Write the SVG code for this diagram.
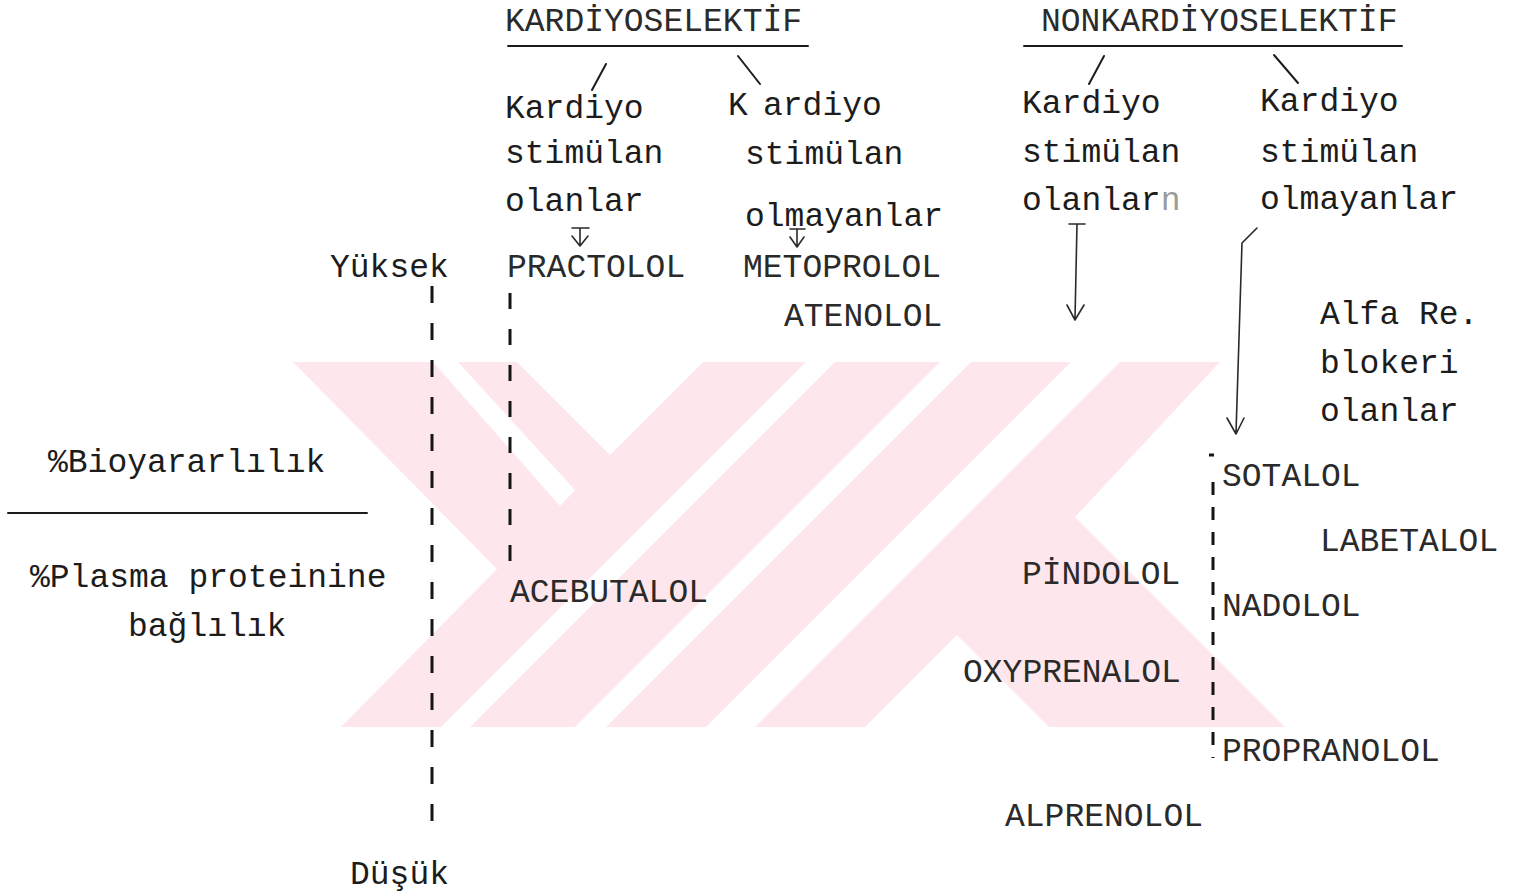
<svg xmlns="http://www.w3.org/2000/svg" width="1524" height="896" viewBox="0 0 1524 896">
  <defs>
    <clipPath id="wm-clip">
      <rect x="0" y="362" width="1524" height="365"/>
    </clipPath>
    <style>
      .tw { font-family: "Liberation Mono", "Courier New", monospace; font-size: 33px; fill: #1c1c1c; }
      .cap { font-family: "Liberation Mono", "Courier New", monospace; font-size: 33px; fill: #2a2a2a; }
      .faint { fill: #9a9a9a; }
      .ln { stroke: #1c1c1c; stroke-width: 2; fill: none; stroke-linecap: round; stroke-linejoin: round; }
      .thin { stroke: #2a2a2a; stroke-width: 1.6; fill: none; stroke-linecap: round; stroke-linejoin: round; }
      .dash { stroke: #151515; stroke-width: 3; fill: none; }
      .wm { fill: #fde7ec; }
      .gap { fill: #ffffff; }
    </style>
  </defs>

  <rect width="1524" height="896" fill="#ffffff"/>

  <!-- background stamp: diagonal bands -->
  <g id="stamp" clip-path="url(#wm-clip)">
    <polygon class="wm" points="293,362 1220,362 1075,517 1285,727 1049,727 957,635 865,727 341,727 497,569"/>
    <polygon class="gap" points="517,362 610,455 703,362"/>
    <polygon class="gap" points="433,362 458,362 575,490 560,506"/>
    <polygon class="gap" points="806,362 835,362 470,727 441,727"/>
    <polygon class="gap" points="940,362 971,362 606,727 575,727"/>
    <polygon class="gap" points="1071,362 1120,362 755,727 706,727"/>
  </g>

  <!-- connectors: branch strokes, arrows, scale lines -->
  <g id="connectors">
    <!-- header underlines -->
    <line class="ln" x1="508" y1="46" x2="808" y2="46"/>
    <line class="ln" x1="1024" y1="46" x2="1402" y2="46"/>
    <!-- branch strokes -->
    <line class="ln" x1="606" y1="64" x2="592" y2="90"/>
    <line class="ln" x1="738" y1="56" x2="760" y2="84"/>
    <line class="ln" x1="1104" y1="56" x2="1089" y2="84"/>
    <line class="ln" x1="1274" y1="55" x2="1298" y2="83"/>
    <!-- short arrows under the selective groups -->
    <path class="thin" d="M572,228 H589 M580,228 V245 M572,236 L580,246 L588,236"/>
    <path class="thin" d="M790,229 H805 M797,229 V246 M790,237 L797,247 L804,237"/>
    <!-- long arrows under the non-selective groups -->
    <path class="thin" d="M1069,224 H1085 M1077,224 L1075,319 M1067,305 L1075,320 L1084,305"/>
    <path class="thin" d="M1257,228 L1242,243 L1236,433 M1227,418 L1236,434 L1244,418"/>
    <!-- fraction bar -->
    <line class="ln" x1="8" y1="513" x2="367" y2="513"/>
    <!-- high/low scale -->
    <line class="dash" x1="432" y1="286" x2="432" y2="840" stroke-dasharray="17 20"/>
    <line class="dash" x1="510" y1="293" x2="510" y2="567" stroke-dasharray="16 20"/>
    <line class="dash" x1="1213" y1="482" x2="1213" y2="758" stroke-dasharray="13 12"/>
    <line class="dash" x1="1209" y1="455" x2="1214" y2="455" stroke-width="2"/>
  </g>

  <!-- group headers -->
  <g id="kardiyoselektif">
    <text class="cap" x="505" y="31">KARDİYOSELEKTİF</text>
  </g>
  <g id="nonkardiyoselektif">
    <text class="cap" x="1041" y="31">NONKARDİYOSELEKTİF</text>
  </g>

  <!-- sub-groups -->
  <g id="ks-stimulan-olan">
    <text class="tw" x="505" y="118">Kardiyo</text>
    <text class="tw" x="505" y="163">stimülan</text>
    <text class="tw" x="505" y="211">olanlar</text>
  </g>
  <g id="ks-stimulan-olmayan">
    <text class="tw" y="115"><tspan x="728">K</tspan><tspan x="763">ardiyo</tspan></text>
    <text class="tw" x="745" y="164">stimülan</text>
    <text class="tw" x="745" y="226">olmayanlar</text>
  </g>
  <g id="nks-stimulan-olan">
    <text class="tw" x="1022" y="113">Kardiyo</text>
    <text class="tw" x="1022" y="162">stimülan</text>
    <text class="tw" x="1022" y="210">olanlar<tspan class="faint">n</tspan></text>
  </g>
  <g id="nks-stimulan-olmayan">
    <text class="tw" x="1260" y="111">Kardiyo</text>
    <text class="tw" x="1260" y="162">stimülan</text>
    <text class="tw" x="1260" y="209">olmayanlar</text>
  </g>
  <g id="alfa-blokeri">
    <text class="tw" x="1320" y="324">Alfa Re.</text>
    <text class="tw" x="1320" y="373">blokeri</text>
    <text class="tw" x="1320" y="421">olanlar</text>
  </g>

  <!-- axis labels -->
  <g id="yuksek"><text class="tw" x="330" y="277">Yüksek</text></g>
  <g id="dusuk"><text class="tw" x="350" y="884">Düşük</text></g>
  <g id="oran">
    <text class="tw" x="48" y="472">%Bioyararlılık</text>
    <text class="tw" x="30" y="587">%Plasma proteinine</text>
    <text class="tw" x="128" y="636">bağlılık</text>
  </g>

  <!-- drugs -->
  <g id="practolol"><text class="cap" x="507" y="277">PRACTOLOL</text></g>
  <g id="metoprolol"><text class="cap" x="743" y="277">METOPROLOL</text></g>
  <g id="atenolol"><text class="cap" x="784" y="326">ATENOLOL</text></g>
  <g id="acebutalol"><text class="cap" x="510" y="602">ACEBUTALOL</text></g>
  <g id="sotalol"><text class="cap" x="1222" y="486">SOTALOL</text></g>
  <g id="labetalol"><text class="cap" x="1320" y="551">LABETALOL</text></g>
  <g id="pindolol"><text class="cap" x="1022" y="584">PİNDOLOL</text></g>
  <g id="nadolol"><text class="cap" x="1222" y="616">NADOLOL</text></g>
  <g id="oxyprenalol"><text class="cap" x="963" y="682">OXYPRENALOL</text></g>
  <g id="propranolol"><text class="cap" x="1222" y="761">PROPRANOLOL</text></g>
  <g id="alprenolol"><text class="cap" x="1005" y="826">ALPRENOLOL</text></g>
</svg>
